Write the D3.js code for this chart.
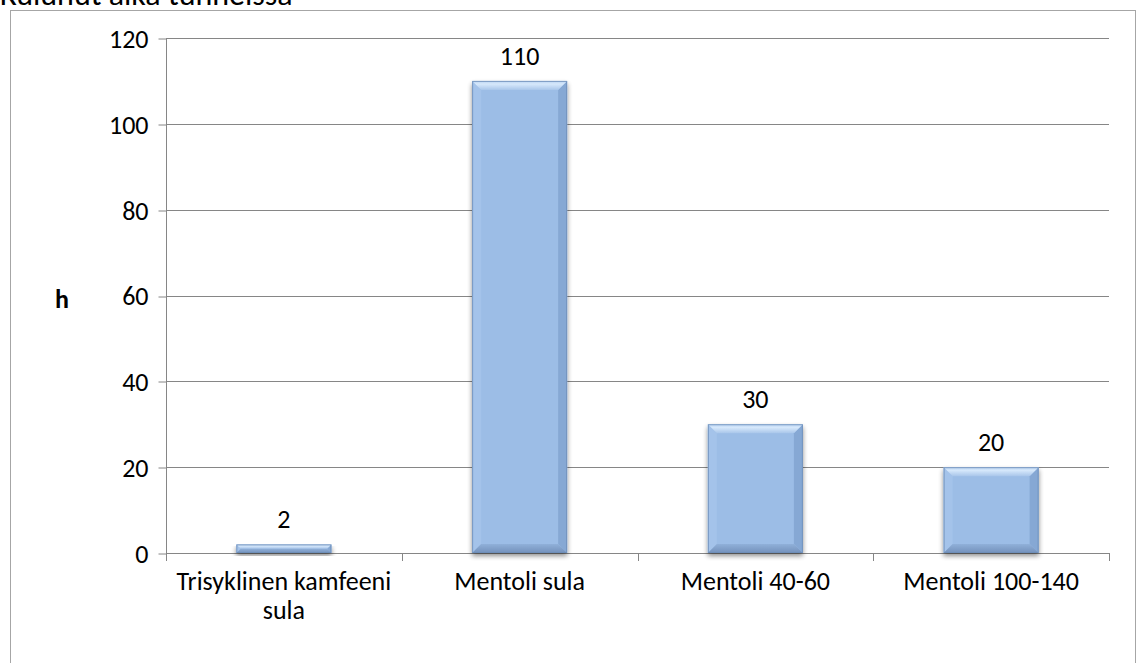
<!DOCTYPE html>
<html>
<head>
<meta charset="utf-8">
<script src="https://cdn.jsdelivr.net/npm/d3@7"></script>
<style>
  html, body { margin: 0; padding: 0; background: #fff; overflow: hidden; }
  svg { display: block; }
  text { font-family: "Carlito", "Lato", "Open Sans", sans-serif; fill: #000; }
</style>
</head>
<body>
<svg id="chart" width="1138" height="663"></svg>
<script>
// Elapsed time per sample, hours
const categories = [["Trisyklinen kamfeeni", "sula"], ["Mentoli sula"], ["Mentoli 40-60"], ["Mentoli 100-140"]];
const values = [2, 110, 30, 20];
const yTicks = [0, 20, 40, 60, 80, 100, 120];
const title = "Kulunut aika tunneissa";
const yLabel = "h";

const FONT = "Carlito, Lato, 'Open Sans', sans-serif";
const LABEL_SIZE = 26;

const svg = d3.select("#chart");
const plot = { left: 166, right: 1109, top: 38, bottom: 553 };

const defs = svg.append("defs");
const shadow = defs.append("filter").attr("id", "barShadow")
  .attr("x", "-10%").attr("y", "-10%").attr("width", "120%").attr("height", "140%");
shadow.append("feGaussianBlur").attr("in", "SourceAlpha").attr("stdDeviation", 2.5).attr("result", "b");
shadow.append("feOffset").attr("in", "b").attr("dx", 0).attr("dy", 3).attr("result", "o");
shadow.append("feComponentTransfer").attr("in", "o").attr("result", "s")
  .append("feFuncA").attr("type", "linear").attr("slope", 0.45);
const merge = shadow.append("feMerge");
merge.append("feMergeNode").attr("in", "s");
merge.append("feMergeNode").attr("in", "SourceGraphic");

const topGrad = defs.append("linearGradient").attr("id", "topBevel")
  .attr("x1", 0).attr("y1", 0).attr("x2", 0).attr("y2", 1);
topGrad.append("stop").attr("offset", 0).attr("stop-color", "#b9d3f1");
topGrad.append("stop").attr("offset", 0.35).attr("stop-color", "#d6e8fb");
topGrad.append("stop").attr("offset", 1).attr("stop-color", "#a9c6ea");

const botGrad = defs.append("linearGradient").attr("id", "botBevel")
  .attr("x1", 0).attr("y1", 0).attr("x2", 0).attr("y2", 1);
botGrad.append("stop").attr("offset", 0).attr("stop-color", "#90b0d9");
botGrad.append("stop").attr("offset", 1).attr("stop-color", "#7391bb");

// Outer chart-area border
svg.append("rect").attr("x", 10.5).attr("y", 10.5).attr("width", 1125).attr("height", 700)
  .attr("fill", "none").attr("stroke", "#a6a6a6").attr("stroke-width", 1);

// Title, partly above the page edge
svg.append("text").attr("x", 0).attr("y", 5).attr("font-size", 32).text(title);

const x = d3.scaleBand().domain(d3.range(values.length)).range([plot.left, plot.right])
  .paddingInner(0).paddingOuter(0);
const y = d3.scaleLinear().domain([0, 120]).range([plot.bottom, plot.top]);

// Gridlines
svg.append("g").selectAll("line").data(yTicks.filter(d => d > 0)).join("line")
  .attr("x1", plot.left).attr("x2", plot.right)
  .attr("y1", d => Math.round(y(d)) + 0.5).attr("y2", d => Math.round(y(d)) + 0.5)
  .attr("stroke", "#868686").attr("stroke-width", 1);

// Y axis
const yAxis = svg.append("g").attr("transform", `translate(${plot.left + 0.5},0)`)
  .call(d3.axisLeft(y).tickValues(yTicks).tickSize(8).tickPadding(10).tickFormat(d3.format("d")));
yAxis.select(".domain").attr("stroke", "#868686").attr("d", `M0,${plot.top}V${plot.bottom + 0.5}`);
yAxis.selectAll(".tick line").attr("stroke", "#868686")
  .attr("transform", d => `translate(0,${Math.round(y(d)) + 0.5 - y(d)})`);
yAxis.selectAll(".tick text").attr("font-size", LABEL_SIZE).attr("font-family", FONT)
  .attr("fill", "#000").attr("dy", "0.36em");

// X axis baseline and category separators
const xAxisG = svg.append("g");
xAxisG.append("line").attr("x1", plot.left).attr("x2", plot.right)
  .attr("y1", plot.bottom + 0.5).attr("y2", plot.bottom + 0.5).attr("stroke", "#868686");
const seps = d3.range(values.length + 1).map(i => i < values.length ? x(i) : x(values.length - 1) + x.bandwidth());
xAxisG.selectAll("line.sep").data(seps).join("line").attr("class", "sep")
  .attr("x1", d => Math.round(d) + 0.5).attr("x2", d => Math.round(d) + 0.5)
  .attr("y1", plot.bottom).attr("y2", plot.bottom + 8).attr("stroke", "#868686");

// Bars with bevelled edges
const barFrac = 0.403;
const bars = svg.append("g").selectAll("g").data(values).join("g")
  .attr("filter", "url(#barShadow)");
bars.each(function(v, i) {
  const g = d3.select(this);
  const bw = x.bandwidth() * barFrac;
  const x0 = x(i) + (x.bandwidth() - bw) / 2, x1 = x0 + bw;
  const y0 = y(v), y1 = y(0);
  const b = Math.min(9, (y1 - y0) / 2);
  g.append("rect").attr("x", x0).attr("y", y0).attr("width", bw).attr("height", y1 - y0)
    .attr("fill", "#9cbde6");
  // left and right bevels
  g.append("path").attr("d", `M${x0},${y0}L${x0 + b},${y0 + b}L${x0 + b},${y1 - b}L${x0},${y1}Z`)
    .attr("fill", "#a4c3ea");
  g.append("path").attr("d", `M${x1},${y0}L${x1 - b},${y0 + b}L${x1 - b},${y1 - b}L${x1},${y1}Z`)
    .attr("fill", "#86a8d4");
  // top and bottom bevels
  g.append("path").attr("d", `M${x0},${y0}L${x1},${y0}L${x1 - b},${y0 + b}L${x0 + b},${y0 + b}Z`)
    .attr("fill", "url(#topBevel)");
  g.append("path").attr("d", `M${x0},${y1}L${x1},${y1}L${x1 - b},${y1 - b}L${x0 + b},${y1 - b}Z`)
    .attr("fill", "url(#botBevel)");
  g.append("rect").attr("x", x0 + 0.5).attr("y", y0 + 0.5).attr("width", bw - 1).attr("height", y1 - y0 - 1)
    .attr("fill", "none").attr("stroke", "#6d8db8").attr("stroke-width", 1).attr("stroke-opacity", 0.8);
});

// Value labels
svg.append("g").selectAll("text").data(values).join("text")
  .attr("x", (d, i) => x(i) + x.bandwidth() / 2)
  .attr("y", d => y(d) - 16)
  .attr("text-anchor", "middle").attr("font-size", LABEL_SIZE)
  .text(d => d);

// Category labels
const catG = svg.append("g").selectAll("text").data(categories).join("text")
  .attr("x", (d, i) => x(i) + x.bandwidth() / 2)
  .attr("y", 590)
  .attr("text-anchor", "middle").attr("font-size", LABEL_SIZE);
catG.selectAll("tspan").data(d => d).join("tspan")
  .attr("x", function() { return d3.select(this.parentNode).attr("x"); })
  .attr("dy", (d, j) => j === 0 ? 0 : 29)
  .text(d => d);

// Y axis title
svg.append("text").attr("x", 62).attr("y", 308).attr("text-anchor", "middle")
  .attr("font-size", LABEL_SIZE).attr("font-weight", "bold").text(yLabel);
</script>
</body>
</html>
